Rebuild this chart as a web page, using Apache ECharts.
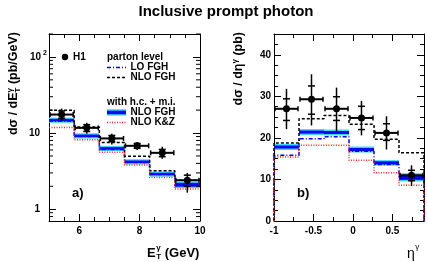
<!DOCTYPE html>
<html><head><meta charset="utf-8">
<script src="https://cdn.jsdelivr.net/npm/echarts@6/dist/echarts.min.js"></script>
<style>html,body{margin:0;padding:0;background:#fff}#c{width:428px;height:262px}</style>
</head><body><div id="c"></div>
<script>
// ---------- Panel a) : dσ/dE_T ----------
const etEdges   = [5, 5.833, 6.667, 7.5, 8.333, 9.167, 10];
const etCenters = [5.42, 6.25, 7.08, 7.92, 8.75, 9.58];
const etData    = [17.5, 11.7, 8.5, 6.8, 5.5, 2.4];
const etTotLo   = [14.3, 9.8, 7.1, 6.0, 4.6, 1.65];
const etTotHi   = [21.0, 13.7, 9.8, 7.6, 6.6, 3.0];
const etStatLo  = [15.6, 10.5, 7.7, 6.3, 4.9, 2.0];
const etStatHi  = [19.5, 12.9, 9.3, 7.3, 6.1, 2.8];
const etLO      = [14.4, 9.0, 6.1, 4.1, 2.85, 2.05];
const etNLO     = [19.9, 12.0, 7.5, 4.95, 3.2, 2.4];
const etNLOhc   = [14.8, 9.2, 6.3, 4.2, 2.9, 2.1];
const etNLOhcOuter = [1.15, 0.72, 0.49, 0.33, 0.23, 0.2];
const etNLOhcInner = [0.56, 0.35, 0.24, 0.16, 0.11, 0.12];
const etKZ      = [11.8, 8.2, 5.6, 3.8, 2.6, 1.84];
const etMajorTicks = [6, 8, 10];
const logMinorTicks = [0.8, 0.9, 2, 3, 4, 5, 6, 7, 8, 9, 20, 30, 40, 50, 60, 70, 80, 90, 200];

// ---------- Panel b) : dσ/dη ----------
const etaEdges   = [-1, -0.6833, -0.3667, -0.05, 0.2667, 0.5833, 0.9];
const etaCenters = [-0.842, -0.525, -0.208, 0.108, 0.425, 0.742];
const etaData    = [27.0, 29.3, 27.0, 24.8, 21.2, 11.0];
const etaTotLo   = [22.1, 23.0, 21.6, 20.6, 17.2, 8.4];
const etaTotHi   = [31.8, 35.3, 32.1, 28.9, 25.2, 13.4];
const etaStatLo  = [24.2, 25.7, 24.2, 22.0, 19.4, 9.7];
const etaStatHi  = [29.4, 32.5, 29.9, 27.6, 23.4, 12.2];
const etaLO      = [15.8, 19.8, 20.3, 16.8, 13.6, 10.2];
const etaNLO     = [18.8, 24.6, 25.4, 23.3, 19.7, 16.4];
const etaNLOhc   = [17.8, 21.4, 21.3, 17.2, 14.0, 10.5];
const etaNLOhcOuter = [0.72, 0.72, 0.72, 0.72, 0.64, 1.0];
const etaNLOhcInner = [0.36, 0.36, 0.36, 0.36, 0.36, 0.6];
const etaKZ      = [15.4, 18.2, 18.2, 14.6, 11.6, 8.6];

const FF = 'Liberation Sans';
const CYAN = '#3fd4ff', BLUE = '#0808f0', RED = '#ff2020';
const labelStyle = {color:'#000', fontSize:10, fontWeight:'bold', fontFamily:FF};

function mkAxis(grid, pos, base, tick, label, line) {
  return Object.assign({
    gridIndex: grid, position: pos,
    axisLine: {show: !!line, onZero: false, lineStyle: {color:'#000', width:1}},
    axisTick: Object.assign({show:true, inside:true, lineStyle:{color:'#000', width:1}}, tick),
    axisLabel: label || {show:false},
    splitLine: {show:false}
  }, base);
}
const etBase = {type:'value', min:5, max:10};
const etaBase = {type:'value', min:-1, max:0.9};
const logBase = {type:'log', logBase:10, min:0.7, max:200};
const sigBase = {type:'value', min:0, max:45};

const xAxes = [
  mkAxis(0,'bottom',etBase,{length:7, customValues:etMajorTicks},
    Object.assign({show:true, customValues:etMajorTicks, margin:5}, labelStyle), true),
  mkAxis(0,'bottom',Object.assign({interval:0.5}, etBase),{length:4}, null, false),
  mkAxis(0,'top',etBase,{length:7, customValues:etMajorTicks}, null, true),
  mkAxis(0,'top',Object.assign({interval:0.5}, etBase),{length:4}, null, false),
  mkAxis(1,'bottom',Object.assign({interval:0.5}, etaBase),{length:7},
    Object.assign({show:true, margin:5, showMaxLabel:false}, labelStyle), true),
  mkAxis(1,'bottom',Object.assign({interval:0.25}, etaBase),{length:4}, null, false),
  mkAxis(1,'top',Object.assign({interval:0.5}, etaBase),{length:7}, null, true),
  mkAxis(1,'top',Object.assign({interval:0.25}, etaBase),{length:4}, null, false)
];
const yAxes = [
  mkAxis(0,'left',logBase,{length:7},
    {show:true, margin:2, showMinLabel:false, showMaxLabel:false,
     formatter: v => {
       if (Math.abs(v-100) < 1e-6) return '{n|10}{s|2}';
       if (Math.abs(v-10) < 1e-6) return '{n|10}{g|}';
       if (Math.abs(v-1) < 1e-6) return '{n|1}{g|}';
       return '';
     },
     rich: {n:{fontSize:10, fontWeight:'bold', color:'#000', fontFamily:FF, lineHeight:14},
            s:{fontSize:7, fontWeight:'bold', color:'#000', fontFamily:FF, verticalAlign:'top', padding:[0,0,0,2]},
            g:{width:7}}}, true),
  mkAxis(0,'right',logBase,{length:7}, null, true),
  mkAxis(1,'left',Object.assign({interval:10}, sigBase),{length:7},
    Object.assign({show:true, margin:3, showMaxLabel:false}, labelStyle), true),
  mkAxis(1,'left',Object.assign({interval:2.5}, sigBase),{length:4}, null, false),
  mkAxis(1,'right',Object.assign({interval:10}, sigBase),{length:7}, null, true),
  mkAxis(1,'right',Object.assign({interval:2.5}, sigBase),{length:4}, null, false)
];

function stepData(edges, vals, closeZero) {
  const d = vals.map((v,i) => [edges[i], v]);
  d.push([edges[edges.length-1], vals[vals.length-1]]);
  if (closeZero) { d.unshift([edges[0], 0]); d.push([edges[edges.length-1], 0]); }
  return d;
}
function stepSeries(xi, yi, edges, vals, closeZero, color, width, dash) {
  return {type:'line', xAxisIndex:xi, yAxisIndex:yi, step:'end', symbol:'none', silent:true,
    data: stepData(edges, vals, closeZero), clip:true,
    lineStyle:{color, width, type:dash}, z:3};
}
function bandSeries(xi, yi, edges, c, outer, inner) {
  return {type:'custom', xAxisIndex:xi, yAxisIndex:yi, silent:true, z:2,
    data: c.map((v,i) => [edges[i], v, edges[i+1], outer[i], inner[i]]),
    encode:{x:0, y:1},
    renderItem: (params, api) => {
      const x0 = api.value(0), c0 = api.value(1), x1 = api.value(2), o = api.value(3), n = api.value(4);
      const a = api.coord([x0, c0 + o]), b = api.coord([x1, c0 - o]);
      const ai = api.coord([x0, c0 + n]), bi = api.coord([x1, c0 - n]);
      return {type:'group', children:[
        {type:'rect', shape:{x:a[0], y:a[1], width:b[0]-a[0], height:b[1]-a[1]}, style:{fill:CYAN}},
        {type:'rect', shape:{x:ai[0], y:ai[1], width:bi[0]-ai[0], height:bi[1]-ai[1]}, style:{fill:BLUE}}
      ]};
    }};
}
function dataSeries(xi, yi, centers, vals, tlo, thi, slo, shi, edges) {
  return {type:'custom', xAxisIndex:xi, yAxisIndex:yi, silent:true, z:5,
    data: centers.map((x,i) => [x, vals[i], tlo[i], thi[i], slo[i], shi[i], edges[i], edges[i+1]]),
    encode:{x:0, y:1},
    renderItem: (params, api) => {
      const x = api.value(0), y = api.value(1);
      const c = api.coord([x, y]);
      const lo = api.coord([x, api.value(2)]), hi = api.coord([x, api.value(3)]);
      const sl = api.coord([x, api.value(4)]), sh = api.coord([x, api.value(5)]);
      const xl = api.coord([api.value(6), y]), xr = api.coord([api.value(7), y]);
      const st = {stroke:'#000', lineWidth:1.5};
      return {type:'group', children:[
        {type:'line', shape:{x1:c[0], y1:hi[1], x2:c[0], y2:lo[1]}, style:st},
        {type:'line', shape:{x1:c[0]-3.5, y1:sl[1], x2:c[0]+3.5, y2:sl[1]}, style:st},
        {type:'line', shape:{x1:c[0]-3.5, y1:sh[1], x2:c[0]+3.5, y2:sh[1]}, style:st},
        {type:'line', shape:{x1:xl[0]+1, y1:c[1], x2:xr[0]-1, y2:c[1]}, style:{stroke:'#000', lineWidth:2}},
        {type:'line', shape:{x1:xl[0]+1, y1:c[1]-2.5, x2:xl[0]+1, y2:c[1]+2.5}, style:st},
        {type:'line', shape:{x1:xr[0]-1, y1:c[1]-2.5, x2:xr[0]-1, y2:c[1]+2.5}, style:st},
        {type:'circle', shape:{cx:c[0], cy:c[1], r:3.5}, style:{fill:'#000'}}
      ]};
    }};
}
const logMinorSeries = {type:'custom', xAxisIndex:0, yAxisIndex:0, silent:true, z:6,
  data: logMinorTicks.map(v => [etEdges[0], v]), encode:{x:0, y:1},
  renderItem: (params, api) => {
    const p = api.coord([api.value(0), api.value(1)]);
    const cs = params.coordSys;
    const st = {stroke:'#000', lineWidth:1};
    return {type:'group', children:[
      {type:'line', shape:{x1:cs.x, y1:p[1], x2:cs.x+4, y2:p[1]}, style:st},
      {type:'line', shape:{x1:cs.x+cs.width, y1:p[1], x2:cs.x+cs.width-4, y2:p[1]}, style:st}
    ]};
  }};

const DASHDOT = [4,2,1,2], DASH = [3,2], DOT = [1,1.5];
const series = [
  bandSeries(0,0, etEdges, etNLOhc, etNLOhcOuter, etNLOhcInner),
  stepSeries(0,0, etEdges, etLO, false, '#0000ff', 1.5, DASHDOT),
  stepSeries(0,0, etEdges, etNLO, false, '#000', 1.5, DASH),
  stepSeries(0,0, etEdges, etKZ, false, RED, 1.5, DOT),
  dataSeries(0,0, etCenters, etData, etTotLo, etTotHi, etStatLo, etStatHi, etEdges),
  logMinorSeries,
  bandSeries(4,2, etaEdges, etaNLOhc, etaNLOhcOuter, etaNLOhcInner),
  stepSeries(4,2, etaEdges, etaLO, true, '#0000ff', 1.5, DASHDOT),
  stepSeries(4,2, etaEdges, etaNLO, true, '#000', 1.5, DASH),
  stepSeries(4,2, etaEdges, etaKZ, true, RED, 1.5, DOT),
  dataSeries(4,2, etaCenters, etaData, etaTotLo, etaTotHi, etaStatLo, etaStatHi, etaEdges)
];

// ---------- text / legend graphics ----------
const ctx = document.createElement('canvas').getContext('2d');
function tw(t, font) { ctx.font = font; return ctx.measureText(t).width; }
function txt(x, y, text, font, align, va) {
  return {type:'text', x, y, silent:true, style:{text, font, fill:'#000', align: align||'left', verticalAlign: va||'middle'}};
}
const fB = s => 'bold ' + s + 'px "' + FF + '"';
const fN = s => s + 'px "' + FF + '"';

function rotTitle(cx, yTop, main, sup, sub, tail, size) {
  const wA = tw(main, fB(size));
  const wS = Math.max(tw(sup, fB(8)), sub ? tw(sub, fB(8)) : 0);
  const wB = tw(tail, fB(size));
  const tot = wA + wS + wB;
  const ch = [txt(-tot, 0, main, fB(size)), txt(-tot + wA, -4.5, sup, fB(8))];
  if (sub) ch.push(txt(-tot + wA, 3.5, sub, fB(8)));
  ch.push(txt(-tot + wA + wS, 0, tail, fB(size)));
  return {type:'group', x:cx, y:yTop, rotation:Math.PI/2, children:ch};
}

const wE = tw('E', fB(13));
const wEta = tw('η', fN(14));
const graphics = [
  txt(226, 12, 'Inclusive prompt photon', fB(15), 'center'),
  rotTitle(14, 32, 'dσ / dE', 'γ', 'T', ' (pb/GeV)', 12.5),
  rotTitle(239, 32, 'dσ / dη', 'γ', null, ' (pb)', 12.5),
  txt(147, 253, 'E', fB(13)),
  txt(147 + wE + 0.5, 248, 'γ', fB(8)),
  txt(147 + wE + 0.5, 257, 'T', fB(8)),
  txt(147 + wE + 5.5, 253, ' (GeV)', fB(13)),
  txt(407, 254, 'η', fN(14)),
  txt(407 + wEta + 0.5, 247, 'γ', fN(8)),
  txt(72, 193, 'a)', fB(13)),
  txt(297, 193, 'b)', fB(13)),
  // legend
  {type:'circle', silent:true, shape:{cx:65, cy:57, r:3.2}, style:{fill:'#000'}},
  txt(73, 57, 'H1', fB(10)),
  txt(107, 57, 'parton level', fB(10)),
  {type:'line', silent:true, shape:{x1:107, y1:67.5, x2:126, y2:67.5}, style:{stroke:'#0000ff', lineWidth:1.5, lineDash:DASHDOT}},
  txt(130.5, 67.5, 'LO FGH', fB(10)),
  {type:'line', silent:true, shape:{x1:107, y1:77.5, x2:126, y2:77.5}, style:{stroke:'#000', lineWidth:1.5, lineDash:DASH}},
  txt(130.5, 77.5, 'NLO FGH', fB(10)),
  txt(107, 102, 'with h.c. + m.i.', fB(10)),
  {type:'rect', silent:true, shape:{x:107, y:109.2, width:19, height:6.4}, style:{fill:CYAN}},
  {type:'rect', silent:true, shape:{x:107, y:110.7, width:19, height:3.5}, style:{fill:BLUE}},
  txt(130.5, 112.3, 'NLO FGH', fB(10)),
  {type:'line', silent:true, shape:{x1:107, y1:122.5, x2:126, y2:122.5}, style:{stroke:RED, lineWidth:1.5, lineDash:DOT}},
  txt(130.5, 122.5, 'NLO K&Z', fB(10))
];

const chart = echarts.init(document.getElementById('c'), null, {renderer:'canvas'});
chart.setOption({
  animation:false,
  backgroundColor:'#fff',
  textStyle:{fontFamily:FF},
  grid:[{left:49, top:34, width:151, height:187}, {left:274, top:34, width:150, height:187}],
  xAxis: xAxes,
  yAxis: yAxes,
  series: series,
  graphic: graphics
});
</script></body></html>
